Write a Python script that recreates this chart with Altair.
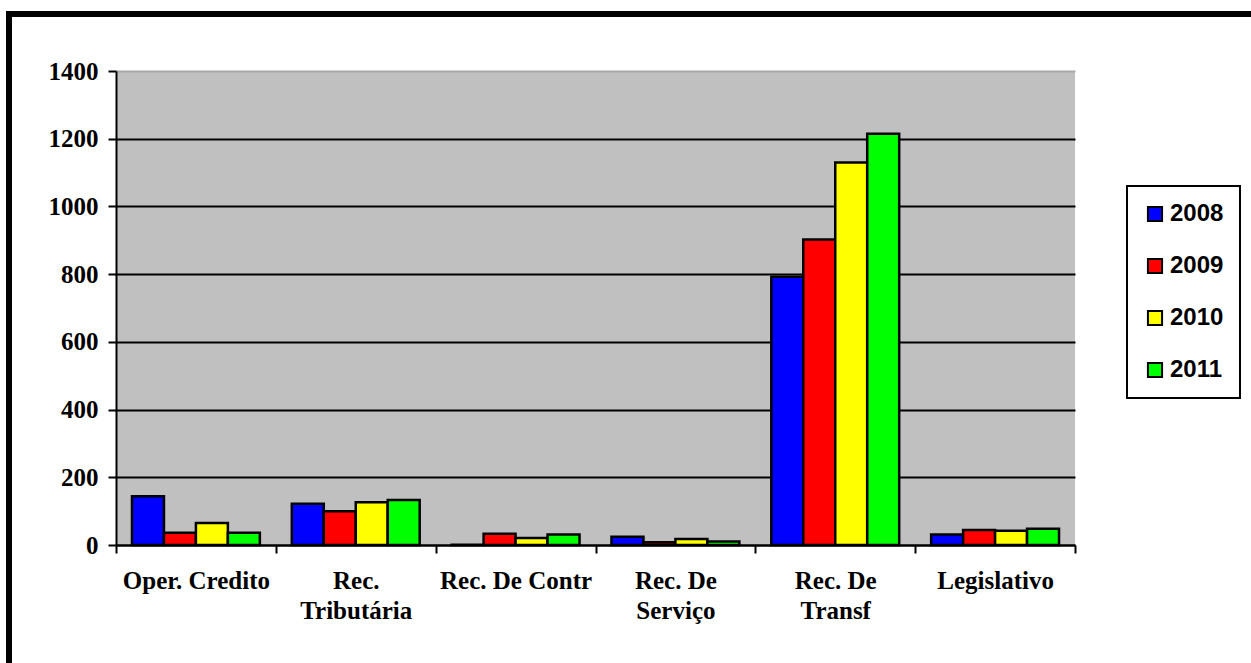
import altair as alt
import pandas as pd

categories = ["Oper. Credito", "Rec.|Tributária", "Rec. De Contr", "Rec. De|Serviço", "Rec. De|Transf", "Legislativo"]
years = ["2008", "2009", "2010", "2011"]
v2008 = [144, 122, 1, 24, 792, 31]
v2009 = [36, 100, 33, 8, 902, 44]
v2010 = [65, 126, 21, 18, 1130, 42]
v2011 = [36, 133, 31, 10, 1215, 48]
colors = ["#0000FF", "#FF0000", "#FFFF00", "#00FF00"]
y_ticks = [0, 200, 400, 600, 800, 1000, 1200, 1400]

rows = []
for yr, vals in zip(years, [v2008, v2009, v2010, v2011]):
    for c, v in zip(categories, vals):
        rows.append({"cat": c, "year": yr, "value": v})
df = pd.DataFrame(rows)

W, H = 959, 474

bars = alt.Chart(df).mark_bar(stroke="black", strokeWidth=2.5).encode(
    x=alt.X("cat:N", sort=categories, title=None,
            scale=alt.Scale(paddingInner=0, paddingOuter=0),
            axis=alt.Axis(labelExpr="split(datum.label, '|')", labelAngle=0,
                          tickBand="extent", labelFont="Liberation Serif",
                          labelFontWeight="bold", labelFontSize=25, labelColor="black",
                          labelLineHeight=30, labelPadding=15, tickSize=8, tickWidth=2,
                          tickColor="black", domainColor="black", domainWidth=2,
                          labelBaseline="top", grid=False)),
    xOffset=alt.XOffset("year:N", scale=alt.Scale(paddingInner=0, paddingOuter=0.5)),
    y=alt.Y("value:Q", title=None,
            scale=alt.Scale(domain=[0, 1400], nice=False),
            axis=alt.Axis(values=y_ticks, format="d", labelFont="Liberation Serif",
                          labelFontWeight="bold", labelFontSize=25, labelColor="black",
                          labelPadding=10, tickSize=8, tickWidth=2, tickColor="black",
                          domainColor="black", domainWidth=2,
                          grid=True, gridWidth=2,
                          gridColor=alt.condition(alt.datum.value == 1400, alt.value("#a8a8a8"), alt.value("black")))),
    color=alt.Color("year:N", scale=alt.Scale(domain=years, range=colors),
                    legend=alt.Legend(title=None, orient="none", legendX=1011, legendY=115,
                                      symbolType="square", symbolSize=200,
                                      symbolStrokeColor="black", symbolStrokeWidth=2,
                                      labelFont="Liberation Sans", labelFontWeight="bold",
                                      labelFontSize=24, labelColor="black", labelOffset=3,
                                      padding=16, rowPadding=28,
                                      strokeColor="black", fillColor="white")),
)

frame = alt.Chart(pd.DataFrame({"a": [0]})).mark_rect(
    fill=None, stroke="black", strokeWidth=6
).encode(x=alt.value(-107), y=alt.value(-57), x2=alt.value(1400), y2=alt.value(800))

chart = alt.layer(bars, frame).properties(
    width=W, height=H,
    autosize=alt.AutoSizeParams(type="none"),
    padding={"left": 116, "top": 71, "right": 176, "bottom": 118},
    background="white",
).configure_view(fill="#C0C0C0", stroke=None).configure_legend(strokeWidth=2)

chart.save("out.html", embed_options={"renderer": "svg", "actions": False})
